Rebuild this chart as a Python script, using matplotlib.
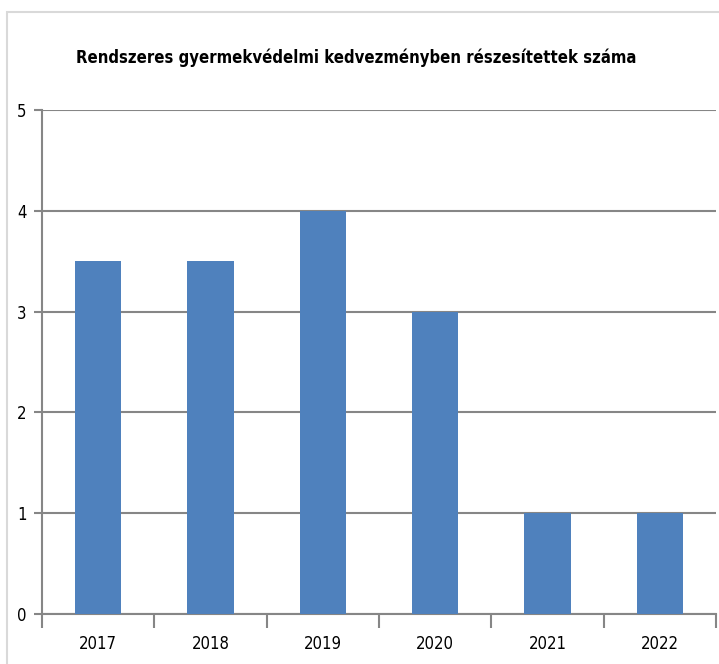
import matplotlib.pyplot as plt
from matplotlib.patches import Rectangle

years = ['2017', '2018', '2019', '2020', '2021', '2022']
values = [3.5, 3.5, 4, 3, 1, 1]

plt.rcParams['font.family'] = ['Liberation Sans Narrow', 'DejaVu Sans']
plt.rcParams['font.stretch'] = 'condensed'

fig = plt.figure(figsize=(7.19, 6.64), dpi=100)
fig.patches.append(Rectangle((7 / 719, -0.1), 1.2, 1 - 12 / 664 + 0.1,
                             transform=fig.transFigure, fill=False,
                             edgecolor='#d9d9d9', linewidth=1.5))

ax = fig.add_axes([42 / 719, 1 - 614 / 664, 674 / 719, 504 / 664])
x = range(len(years))
ax.bar(x, values, width=0.41, color='#4f81bd', zorder=3)

ax.set_xlim(-0.5, len(years) - 0.5)
ax.set_ylim(0, 5)
ax.set_yticks(range(6))
ax.set_xticks(x)
ax.set_xticklabels(years)
ax.set_xticks([i - 0.5 for i in range(len(years) + 1)], minor=True)
ax.tick_params(axis='x', which='major', length=0, pad=15, labelsize=12)
ax.tick_params(axis='x', which='minor', length=10, width=1.5, color='#868686')
ax.tick_params(axis='y', length=6, width=1.5, color='#868686', labelsize=12, pad=5)

ax.grid(axis='y', color='#868686', linewidth=1.5, zorder=0)
for s in ['top', 'right']:
    ax.spines[s].set_visible(False)
for s in ['left', 'bottom']:
    ax.spines[s].set_color('#868686')
    ax.spines[s].set_linewidth(1.5)

fig.text(356 / 719, 1 - 58 / 664, 'Rendszeres gyermekvédelmi kedvezményben részesítettek száma',
         ha='center', va='center', fontsize=12, fontweight='bold')

fig.savefig('out.png', dpi=100)
